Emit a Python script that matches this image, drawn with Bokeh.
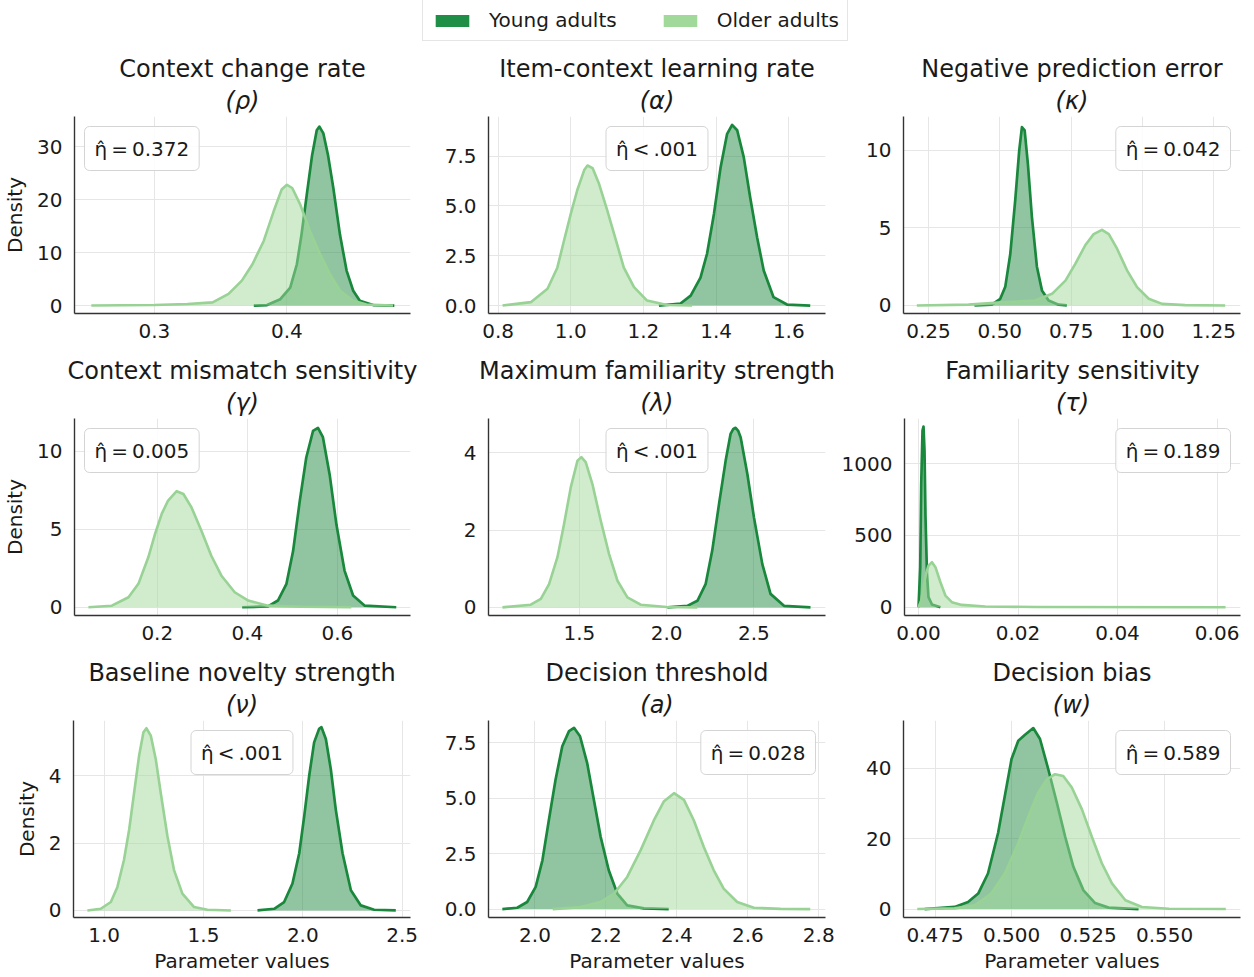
from bokeh.plotting import figure
from bokeh.models import Range1d, Label, Legend, LegendItem, Title
from bokeh.layouts import column, row
from bokeh.embed import file_html
from bokeh.resources import INLINE

# ---------------- data ----------------
groups = ["Young adults", "Older adults"]

rho_young_x = [0.375, 0.385, 0.395, 0.4025, 0.4075, 0.411, 0.415, 0.419, 0.4225, 0.4245, 0.4275, 0.431, 0.435, 0.44, 0.445, 0.45, 0.455, 0.465, 0.481]
rho_young_y = [0, 0.1, 1.2, 3.4, 7.8, 13.4, 21.0, 28.4, 33.1, 33.8, 32.5, 28.4, 22.2, 13.4, 6.6, 2.8, 0.9, 0.1, 0]
rho_older_x = [0.2525, 0.30, 0.325, 0.344, 0.356, 0.366, 0.374, 0.3825, 0.39, 0.396, 0.40, 0.404, 0.41, 0.4175, 0.425, 0.4325, 0.44, 0.45, 0.46, 0.48]
rho_older_y = [0, 0.1, 0.3, 0.6, 2.2, 4.7, 7.8, 12.2, 17.8, 21.9, 22.8, 22.2, 19.1, 14.0, 9.7, 5.9, 2.8, 0.9, 0.2, 0]

alpha_young_x = [1.2426, 1.302, 1.33, 1.357, 1.375, 1.394, 1.412, 1.43, 1.444, 1.458, 1.476, 1.494, 1.513, 1.531, 1.558, 1.595, 1.659]
alpha_young_y = [0, 0.1, 0.5, 1.4, 2.6, 4.6, 6.9, 8.6, 9.07, 8.8, 7.45, 5.4, 3.4, 1.76, 0.42, 0.05, 0]
alpha_older_x = [0.8124, 0.89, 0.936, 0.963, 0.982, 1.0, 1.018, 1.037, 1.046, 1.06, 1.078, 1.10, 1.124, 1.146, 1.174, 1.21, 1.265, 1.334]
alpha_older_y = [0, 0.17, 0.84, 1.9, 3.3, 4.6, 5.8, 6.8, 7.03, 6.9, 6.1, 4.8, 3.3, 1.9, 0.92, 0.25, 0.03, 0]

kappa_young_x = [0.411, 0.472, 0.5015, 0.519, 0.5365, 0.554, 0.568, 0.5775, 0.587, 0.5985, 0.6125, 0.63, 0.6477, 0.671, 0.706, 0.735]
kappa_young_y = [0, 0.05, 0.43, 1.2, 3.3, 6.8, 10.0, 11.5, 11.3, 9.1, 5.7, 2.5, 0.97, 0.32, 0.05, 0]
kappa_older_x = [0.209, 0.39, 0.507, 0.624, 0.683, 0.73, 0.765, 0.80, 0.829, 0.858, 0.882, 0.911, 0.946, 0.981, 1.022, 1.069, 1.15, 1.29]
kappa_older_y = [0, 0.05, 0.2, 0.32, 0.75, 1.6, 2.7, 3.9, 4.6, 4.88, 4.6, 3.66, 2.26, 1.18, 0.43, 0.1, 0.02, 0]

gamma_young_x = [0.3885, 0.446, 0.468, 0.487, 0.5017, 0.5165, 0.531, 0.546, 0.557, 0.568, 0.583, 0.598, 0.616, 0.635, 0.661, 0.731]
gamma_young_y = [0, 0.05, 0.43, 1.5, 3.6, 6.8, 9.6, 11.3, 11.5, 10.9, 8.5, 5.3, 2.35, 0.75, 0.1, 0]
gamma_older_x = [0.047, 0.099, 0.136, 0.158, 0.18, 0.195, 0.21, 0.224, 0.243, 0.258, 0.276, 0.298, 0.32, 0.343, 0.372, 0.402, 0.446, 0.52, 0.631]
gamma_older_y = [0, 0.1, 0.64, 1.5, 3.2, 4.7, 6.0, 6.84, 7.44, 7.26, 6.4, 4.9, 3.3, 2.0, 0.96, 0.43, 0.1, 0.03, 0]

lambda_young_x = [2.004, 2.118, 2.176, 2.223, 2.261, 2.30, 2.338, 2.366, 2.382, 2.395, 2.41, 2.424, 2.462, 2.50, 2.548, 2.595, 2.672, 2.824]
lambda_young_y = [0, 0.04, 0.17, 0.6, 1.47, 2.68, 3.8, 4.49, 4.62, 4.65, 4.57, 4.4, 3.46, 2.33, 1.12, 0.35, 0.04, 0]
lambda_older_x = [1.059, 1.221, 1.279, 1.326, 1.374, 1.412, 1.45, 1.489, 1.511, 1.536, 1.574, 1.622, 1.67, 1.718, 1.775, 1.851, 2.0, 2.176]
lambda_older_y = [0, 0.07, 0.22, 0.6, 1.3, 2.16, 3.1, 3.8, 3.89, 3.76, 3.2, 2.25, 1.38, 0.69, 0.26, 0.07, 0.01, 0]

tau_young_x = [0.0, 0.00034, 0.00054, 0.0008, 0.001, 0.0012, 0.0014, 0.0017, 0.002, 0.0027, 0.0044]
tau_young_y = [0, 279, 860, 1232, 1260, 1093, 628, 233, 70, 19, 0]
tau_older_x = [0.0, 0.00054, 0.001, 0.0015, 0.002, 0.0027, 0.0034, 0.0044, 0.0054, 0.0067, 0.0087, 0.0134, 0.0235, 0.0617]
tau_older_y = [0, 47, 140, 233, 290, 314, 279, 174, 81, 35, 16, 5, 1, 0]

nu_young_x = [1.772, 1.856, 1.906, 1.948, 1.982, 2.007, 2.032, 2.057, 2.082, 2.094, 2.116, 2.141, 2.166, 2.20, 2.242, 2.292, 2.359, 2.468]
nu_young_y = [0, 0.05, 0.25, 0.8, 1.7, 2.8, 4.0, 5.0, 5.4, 5.45, 5.1, 4.2, 3.0, 1.7, 0.6, 0.15, 0.02, 0]
nu_older_x = [0.916, 0.983, 1.034, 1.067, 1.10, 1.126, 1.151, 1.176, 1.198, 1.213, 1.235, 1.26, 1.285, 1.319, 1.352, 1.394, 1.453, 1.52, 1.638]
nu_older_y = [0, 0.05, 0.25, 0.7, 1.5, 2.4, 3.5, 4.6, 5.3, 5.42, 5.2, 4.5, 3.5, 2.2, 1.2, 0.5, 0.1, 0.02, 0]

a_young_x = [1.908, 1.95, 1.978, 2.002, 2.021, 2.039, 2.058, 2.077, 2.096, 2.11, 2.127, 2.147, 2.166, 2.185, 2.208, 2.232, 2.26, 2.307, 2.377]
a_young_y = [0, 0.06, 0.32, 1.0, 2.2, 4.0, 5.84, 7.35, 8.03, 8.18, 7.8, 6.6, 4.93, 3.27, 1.75, 0.7, 0.17, 0.03, 0]
a_older_x = [2.05, 2.129, 2.185, 2.223, 2.26, 2.298, 2.335, 2.363, 2.392, 2.42, 2.448, 2.476, 2.504, 2.532, 2.57, 2.617, 2.692, 2.776]
a_older_y = [0, 0.09, 0.32, 0.7, 1.45, 2.66, 4.0, 4.85, 5.23, 4.93, 4.0, 2.8, 1.75, 0.92, 0.32, 0.06, 0.01, 0]

w_young_x = [0.4716, 0.4814, 0.4858, 0.4891, 0.4923, 0.4956, 0.4978, 0.5, 0.5022, 0.5044, 0.5071, 0.5093, 0.512, 0.5148, 0.5175, 0.5202, 0.5235, 0.5273, 0.5317, 0.5415]
w_young_y = [0, 0.6, 2.0, 4.4, 10.1, 21.6, 32.1, 42.6, 47.8, 49.5, 51.4, 48.3, 39.7, 30.2, 20.6, 12.0, 5.3, 1.7, 0.4, 0]
w_older_x = [0.4692, 0.4814, 0.488, 0.4934, 0.4978, 0.5022, 0.5055, 0.5087, 0.5115, 0.5142, 0.5169, 0.5197, 0.523, 0.5262, 0.5295, 0.5328, 0.5372, 0.5426, 0.5514, 0.57]
w_older_y = [0, 0.2, 1.05, 4.4, 10.1, 18.7, 26.3, 33.0, 36.8, 38.3, 37.8, 34.5, 28.3, 20.6, 13.0, 7.3, 2.5, 0.6, 0.1, 0]

titles = ["Context change rate", "Item-context learning rate", "Negative prediction error",
          "Context mismatch sensitivity", "Maximum familiarity strength", "Familiarity sensitivity",
          "Baseline novelty strength", "Decision threshold", "Decision bias"]
symbols = ["ρ", "α", "κ", "γ", "λ", "τ", "ν", "a", "w"]
eta_labels = ["η̂\u2009=\u20090.372", "η̂\u2009<\u2009.001", "η̂\u2009=\u20090.042",
              "η̂\u2009=\u20090.005", "η̂\u2009<\u2009.001", "η̂\u2009=\u20090.189",
              "η̂\u2009<\u2009.001", "η̂\u2009=\u20090.028", "η̂\u2009=\u20090.589"]

x_ticks = [[0.3, 0.4], [0.8, 1.0, 1.2, 1.4, 1.6], [0.25, 0.5, 0.75, 1.0, 1.25],
           [0.2, 0.4, 0.6], [1.5, 2.0, 2.5], [0.0, 0.02, 0.04, 0.06],
           [1.0, 1.5, 2.0, 2.5], [2.0, 2.2, 2.4, 2.6, 2.8], [0.475, 0.5, 0.525, 0.55]]
x_tick_labels = [["0.3", "0.4"], ["0.8", "1.0", "1.2", "1.4", "1.6"], ["0.25", "0.50", "0.75", "1.00", "1.25"],
                 ["0.2", "0.4", "0.6"], ["1.5", "2.0", "2.5"], ["0.00", "0.02", "0.04", "0.06"],
                 ["1.0", "1.5", "2.0", "2.5"], ["2.0", "2.2", "2.4", "2.6", "2.8"], ["0.475", "0.500", "0.525", "0.550"]]
y_ticks = [[0, 10, 20, 30], [0.0, 2.5, 5.0, 7.5], [0, 5, 10],
           [0, 5, 10], [0, 2, 4], [0, 500, 1000],
           [0, 2, 4], [0.0, 2.5, 5.0, 7.5], [0, 20, 40]]
y_tick_labels = [["0", "10", "20", "30"], ["0.0", "2.5", "5.0", "7.5"], ["0", "5", "10"],
                 ["0", "5", "10"], ["0", "2", "4"], ["0", "500", "1000"],
                 ["0", "2", "4"], ["0.0", "2.5", "5.0", "7.5"], ["0", "20", "40"]]

young_curves = [(rho_young_x, rho_young_y), (alpha_young_x, alpha_young_y), (kappa_young_x, kappa_young_y),
                (gamma_young_x, gamma_young_y), (lambda_young_x, lambda_young_y), (tau_young_x, tau_young_y),
                (nu_young_x, nu_young_y), (a_young_x, a_young_y), (w_young_x, w_young_y)]
older_curves = [(rho_older_x, rho_older_y), (alpha_older_x, alpha_older_y), (kappa_older_x, kappa_older_y),
                (gamma_older_x, gamma_older_y), (lambda_older_x, lambda_older_y), (tau_older_x, tau_older_y),
                (nu_older_x, nu_older_y), (a_older_x, a_older_y), (w_older_x, w_older_y)]

# ---------------- presentation ----------------
x_limits = [(0.2398, 0.4932), (0.7736, 1.701), (0.1623, 1.3437),
            (0.016, 0.7626), (0.979, 2.91), (-0.00282, 0.0647),
            (0.846, 2.542), (1.869, 2.819), (0.4647, 0.5748)]
y_limits = [(-1.5, 35.7), (-0.4, 9.49), (-0.52, 12.19),
            (-0.53, 12.1), (-0.21, 4.89), (-58, 1316),
            (-0.21, 5.65), (-0.38, 8.51), (-2.4, 53.55)]
box_pos = ["left", "center", "right", "left", "center", "right", "center", "right", "right"]

FONT = "DejaVu Sans"
YOUNG_LINE = "#1a883c"
YOUNG_FILL = "#238b45"
OLDER_LINE = "#98d294"
OLDER_FILL = "#a1d99b"
LEG_YOUNG = "#1f8f47"
LEG_OLDER = "#a1d99b"
TEXT = "#1a1a1a"

FRAME_W, FRAME_H = 337, 197
LEFT_B = [73, 65, 65]
RIGHT_B = [13, 13, 14]
figs = []
for i in range(9):
    r, c = divmod(i, 3)
    top = 70
    bottom = 35 if r < 2 else 60
    p = figure(width=LEFT_B[c] + FRAME_W + RIGHT_B[c], height=top + FRAME_H + bottom, title=None,
               output_backend="svg", toolbar_location=None,
               x_range=Range1d(*x_limits[i]), y_range=Range1d(*y_limits[i]),
               min_border_left=LEFT_B[c], min_border_right=RIGHT_B[c], min_border_top=top, min_border_bottom=bottom)
    p.outline_line_color = None
    p.background_fill_color = "white"
    p.add_layout(Title(text="(" + symbols[i] + ")", align="center", text_font=FONT, text_font_size="24px",
                       text_font_style="italic", text_color=TEXT, standoff=3), "above")
    p.add_layout(Title(text=titles[i], align="center", text_font=FONT, text_font_size="24px",
                       text_font_style="normal", text_color=TEXT, standoff=1), "above")

    for ax in (p.xaxis[0], p.yaxis[0]):
        ax.axis_line_color = "#333333"
        ax.axis_line_width = 1.4
        ax.major_tick_out = 0
        ax.major_tick_in = 0
        ax.minor_tick_out = 0
        ax.minor_tick_in = 0
        ax.major_label_text_font = FONT
        ax.major_label_text_font_size = "20px"
        ax.major_label_text_color = TEXT
        ax.axis_label_text_font = FONT
        ax.axis_label_text_font_size = "20px"
        ax.axis_label_text_font_style = "normal"
        ax.axis_label_text_color = TEXT
    p.xaxis.ticker = x_ticks[i]
    p.xaxis.major_label_overrides = dict(zip(x_ticks[i], x_tick_labels[i]))
    p.yaxis.ticker = y_ticks[i]
    p.yaxis.major_label_overrides = dict(zip(y_ticks[i], y_tick_labels[i]))
    p.xaxis.major_label_standoff = 10
    p.yaxis.major_label_standoff = 12
    if c == 0:
        p.yaxis.axis_label = "Density"
        p.yaxis.axis_label_standoff = 7
    if r == 2:
        p.xaxis.axis_label = "Parameter values"
        p.xaxis.axis_label_standoff = 4
    p.grid.grid_line_color = "#e6e6e6"
    p.grid.grid_line_width = 1

    yx, yy = young_curves[i]
    ox, oy = older_curves[i]
    p.varea(x=yx, y1=0, y2=yy, fill_color=YOUNG_FILL, fill_alpha=0.5)
    p.line(yx, yy, line_color=YOUNG_LINE, line_width=2.7, line_join="round")
    p.varea(x=ox, y1=0, y2=oy, fill_color=OLDER_FILL, fill_alpha=0.5)
    p.line(ox, oy, line_color=OLDER_LINE, line_width=2.6, line_join="round")

    x0, x1 = x_limits[i]
    if box_pos[i] == "left":
        lx, align, xo = x0, "left", 10
    elif box_pos[i] == "center":
        lx, align, xo = (x0 + x1) / 2, "center", 0
    else:
        lx, align, xo = x1, "right", -10
    lab = Label(x=lx, y=y_limits[i][1], x_offset=xo, y_offset=-10, text=eta_labels[i],
                text_align=align, text_baseline="top", text_font=FONT, text_font_size="20px",
                text_color=TEXT, background_fill_color="white", background_fill_alpha=0.85,
                border_line_color="#d4d4d4", border_line_width=1, padding=10, border_radius=5)
    p.add_layout(lab)
    figs.append(p)

# ---------------- legend strip ----------------
total_w = sum(LEFT_B[k] + FRAME_W + RIGHT_B[k] for k in range(3))
lf = figure(width=total_w, height=46, output_backend="svg", toolbar_location=None,
            x_range=Range1d(0, 1), y_range=Range1d(0, 1), x_axis_location=None, y_axis_location=None,
            min_border=0, title=None)
lf.outline_line_color = None
lf.grid.visible = False
# hidden, zero-size swatch renderers that only carry the legend colours
r_young = lf.quad(left=[0], right=[0], top=[0], bottom=[0], fill_color=LEG_YOUNG, line_color=None, visible=False)
r_older = lf.quad(left=[0], right=[0], top=[0], bottom=[0], fill_color=LEG_OLDER, line_color=None, visible=False)
leg = Legend(items=[LegendItem(label=groups[0], renderers=[r_young]),
                    LegendItem(label=groups[1], renderers=[r_older])],
             orientation="horizontal", location=(422, 5), click_policy="none",
             label_text_font=FONT, label_text_font_size="20px", label_text_color=TEXT,
             glyph_width=42, glyph_height=15, label_standoff=16, spacing=42,
             padding=8, margin=0, border_line_color="#cccccc", border_line_width=1,
             background_fill_color="white")
lf.add_layout(leg, "center")

layout = column(lf, row(*figs[0:3]), row(*figs[3:6]), row(*figs[6:9]))
open("out.html", "w").write(file_html(layout, INLINE))
